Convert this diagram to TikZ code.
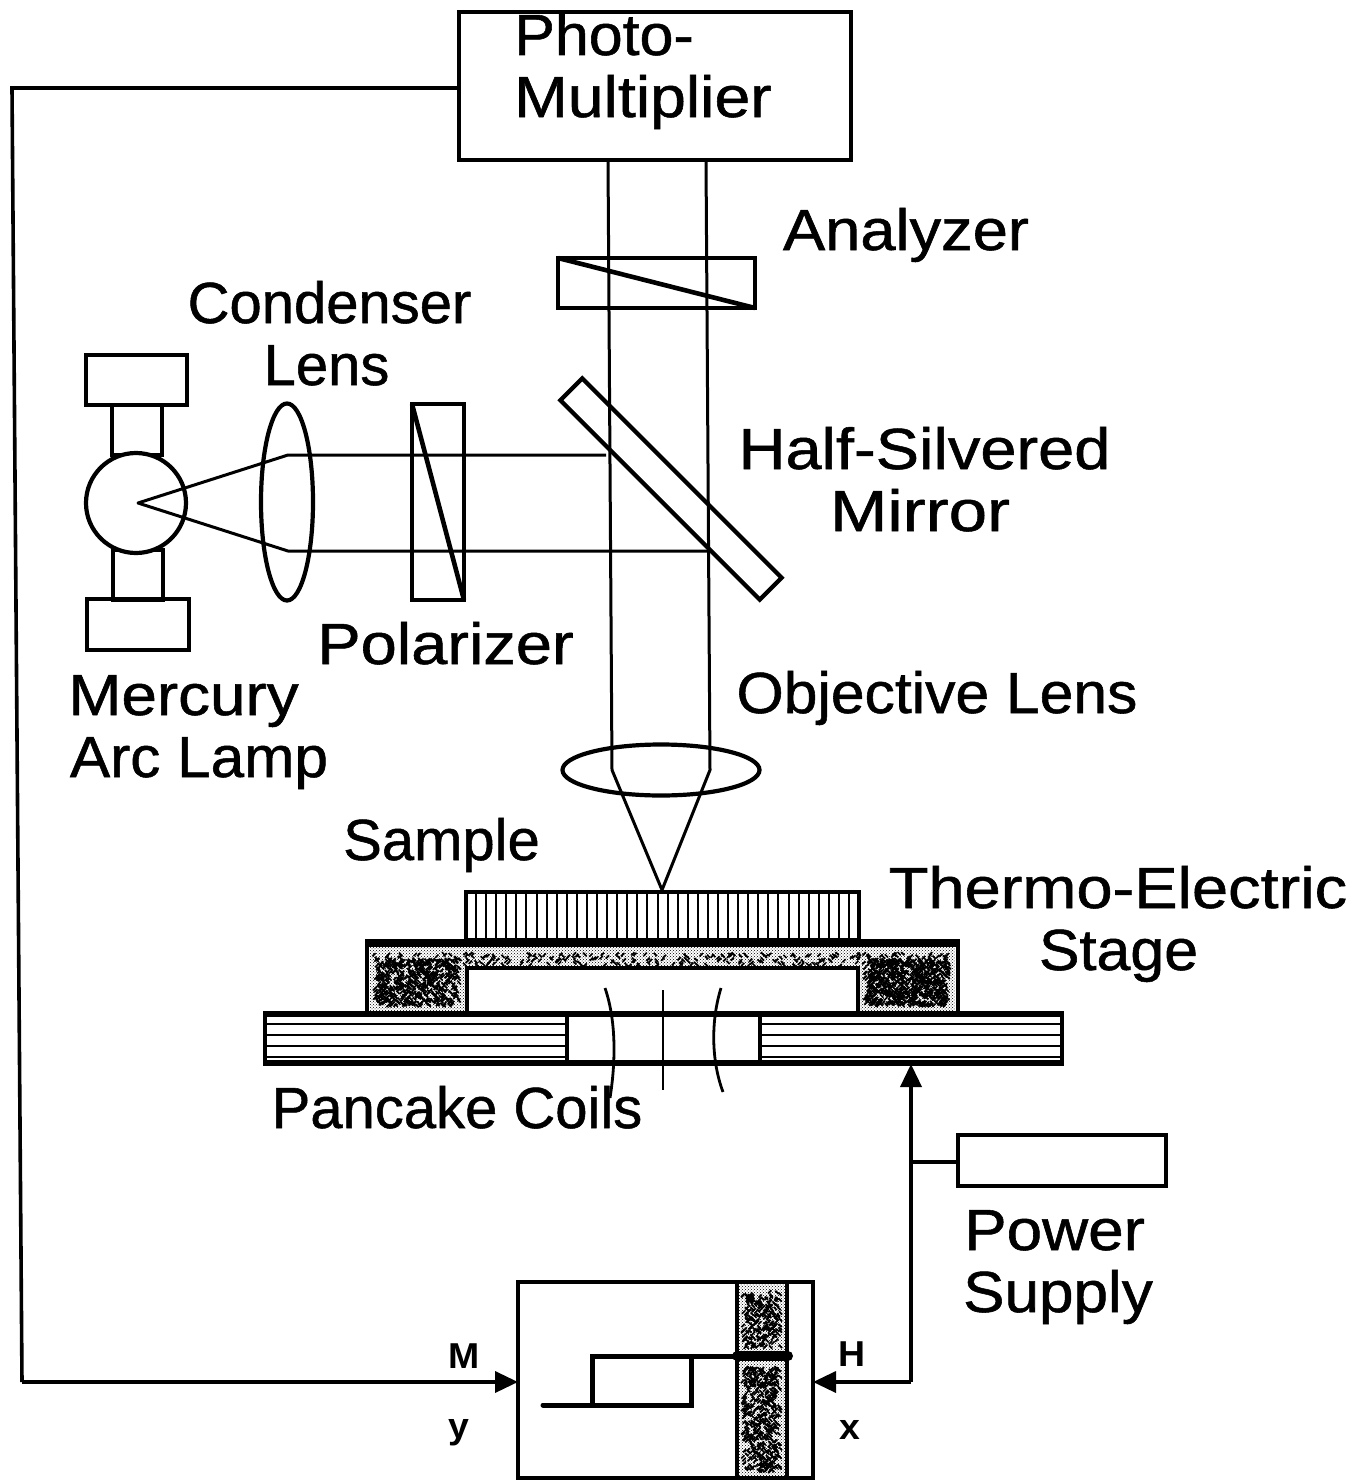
\documentclass[tikz,border=0pt]{standalone}
\usepackage{fontspec}
\usepackage{graphicx}
\setmainfont[FakeBold=0.9]{Liberation Sans}
\newfontfamily\smallfont[FakeStretch=1.04]{Liberation Sans Bold}
\usetikzlibrary{arrows.meta,patterns,shapes.geometric}
\tikzset{
  x=1pt,y=-1pt,
  line/.style={line width=3.6pt,line join=miter},
  wedge/.style={line width=4.6pt},
  thin beam/.style={line width=3pt,line join=round},
  box/.style={draw,line width=4.2pt,inner sep=0pt,outer sep=0pt,fill=none},
  lbl/.style={inner sep=0pt,font=\fontsize{58}{62}\selectfont,anchor=base},
  smalllbl/.style={inner sep=0pt,font=\fontsize{36}{38}\smallfont},
  tip/.style={-{Triangle[length=23pt,width=21pt]},line width=3.6pt},
  stip/.style={pattern=crosshatch dots,pattern color=black},
  speck/.style={line width=1.7pt,black},
}
\newcommand{\sx}[2]{\scalebox{#1}[1]{#2}}
% random dark strokes filling the box x0,y0,x1,y1, count
\newcommand{\noisefill}[5]{%
  \foreach \k in {1,...,#5} {
    \pgfmathsetmacro{\nx}{#1+rnd*(#3-#1)}
    \pgfmathsetmacro{\ny}{#2+rnd*(#4-#2)}
    \pgfmathsetmacro{\nd}{rnd>0.5?3.2:-3.2}
    \draw[speck] (\nx,\ny) -- ++(\nd,3.2);
  }%
}
\begin{document}
\begin{tikzpicture}
\pgfmathsetseed{4242}
\useasboundingbox (0,0) rectangle (1356,1480);
% beams first
\coordinate (bL) at (612,770);
\coordinate (bR) at (710,770);
\coordinate (focus) at (662,890);
\coordinate (src) at (138,503);
\coordinate (rU) at (288,455);
\coordinate (rD) at (288,551);
\coordinate (mU) at (606,455);
\coordinate (mD) at (708,551);
% Photomultiplier
\node[box,minimum width=392pt,minimum height=148pt,anchor=north west] (pm) at (459,12) {};
\coordinate (pmL) at (608,160);
\coordinate (pmR) at (706,160);
\draw[thin beam] (pmL) -- (bL) -- (focus) -- (bR) -- (pmR);
% Analyzer
\node[box,minimum width=197pt,minimum height=50pt,anchor=north west] (an) at (558,258) {};
\draw[wedge] (an.north west) -- (an.south east);
% Mirror
\node[box,minimum width=282pt,minimum height=31pt,rotate=-45] (mir) at (671,489) {};
% Lamp
\node[box,minimum width=101pt,minimum height=50pt,anchor=north west] (lt) at (86,355) {};
\node[box,minimum width=50pt,minimum height=50pt,anchor=north west] (nt) at (112,405) {};
\node[box,minimum width=50pt,minimum height=50pt,anchor=north west] (nb) at (113,550) {};
\node[box,minimum width=102pt,minimum height=51pt,anchor=north west] (lb) at (87,599) {};
\node[box,circle,minimum size=100pt,fill=white] (lamp) at (136,503) {};
% Rays
\draw[thin beam] (mU) -- (rU) -- (src) -- (rD) -- (mD);
% Lenses
\node[box,ellipse,minimum width=52pt,minimum height=197pt] (cl) at (287,502) {};
\node[box,ellipse,minimum width=197pt,minimum height=51pt] (ol) at (661,770) {};
% Polarizer
\node[box,minimum width=52pt,minimum height=196pt,anchor=north west] (po) at (412,404) {};
\draw[wedge] (po.north west) -- (po.south east);
% Sample
\node[box,minimum width=393pt,minimum height=48pt,anchor=north west] (sa) at (466,892) {};
\foreach \i in {1,...,38} \draw[line width=2pt] (466+\i*10.08,892) -- (466+\i*10.08,940);
% Stage
\fill[stip] (370,946) rectangle (955,1011);
\noisefill{372}{952}{950}{964}{300}
\noisefill{376}{958}{458}{1004}{620}
\noisefill{866}{958}{948}{1004}{820}
\node[box,minimum width=591pt,minimum height=72pt,anchor=north west] (st) at (367,941) {};
\draw[line width=6pt] (367,944) -- (958,944);
\node[box,fill=white,minimum width=391pt,minimum height=45pt,anchor=north west] (sti) at (467,968) {};
% Coils
\node[box,fill=white,minimum width=797pt,minimum height=51pt,anchor=north west] (co) at (265,1013) {};
\foreach \yy in {1024,1035,1046,1057} {
  \draw[line width=2.8pt] (265,\yy) -- (567,\yy);
  \draw[line width=2.8pt] (760,\yy) -- (1062,\yy);
}
\draw[line width=6pt] (265,1014) -- (1062,1014);
\draw[line width=6pt] (265,1063) -- (1062,1063);
\node[box,minimum width=193pt,minimum height=51pt,anchor=north west] (cc) at (567,1013) {};
\draw[line width=2.8pt] (605,988) .. controls (616,1020) and (616,1060) .. (610,1098);
\draw[line width=2.8pt] (663,990) -- (663,1090);
\draw[line width=2.8pt] (721,988) .. controls (711,1020) and (711,1060) .. (723,1092);
% Power supply
\node[box,minimum width=208pt,minimum height=51pt,anchor=north west] (ps) at (958,1135) {};
% Recorder
\fill[stip] (739,1284) rectangle (785,1476);
\noisefill{744}{1290}{779}{1346}{260}
\noisefill{744}{1366}{779}{1470}{500}
\node[box,minimum width=295pt,minimum height=196pt,anchor=north west] (rec) at (518,1282) {};
\draw[line width=4.6pt] (737,1282) -- (737,1478);
\draw[line width=4.6pt] (787,1282) -- (787,1478);
\draw[line width=5pt,line cap=round,line join=miter] (543,1405) -- (691,1405) -- (691,1356) -- (592,1356) -- (592,1405);
\draw[line width=5pt] (691,1356) -- (737,1356);
\draw[line width=10pt,line cap=round] (737,1356) -- (788,1356);
% Connectors
\coordinate (c1) at (12,88);
\coordinate (c2) at (22,1382);
\coordinate (cR) at (911,1382);
\coordinate (cJ) at (911,1162);
\coordinate (cT) at (911,1064);
\coordinate (pmW) at (459,88);
\coordinate (recW) at (518,1382);
\coordinate (recE) at (813,1382);
\coordinate (psW) at (958,1162);
\draw[line] (pmW) -- (c1) -- (c2);
\draw[tip] (c2) -- (recW);
\draw[tip] (cR) -- (recE);
\draw[tip] (cR) -- (cT);
\draw[line] (cJ) -- (psW);
% Labels (base anchored at measured baselines)
\node[lbl] (t1a) at (604,55) {\sx{1.05}{Photo-}};
\node[lbl] (t1b) at (643,117) {\sx{1.11}{Multiplier}};
\node[lbl] (t2) at (906,250) {\sx{1.09}{Analyzer}};
\node[lbl] (t3a) at (329.5,323) {Condenser};
\node[lbl] (t3b) at (326.5,385) {Lens};
\node[lbl] (t4a) at (924.5,469) {\sx{1.12}{Half-Silvered}};
\node[lbl] (t4b) at (920,531) {\sx{1.19}{Mirror}};
\node[lbl] (t5) at (445.5,664) {\sx{1.12}{Polarizer}};
\node[lbl] (t6) at (937,713) {\sx{1.045}{Objective Lens}};
\node[lbl] (t7a) at (183.5,715) {\sx{1.10}{Mercury}};
\node[lbl] (t7b) at (199,777) {\sx{1.04}{Arc Lamp}};
\node[lbl] (t8) at (441.5,860) {Sample};
\node[lbl] (t9a) at (1118,908) {\sx{1.12}{Thermo-Electric}};
\node[lbl] (t9b) at (1118.5,970) {\sx{1.05}{Stage}};
\node[lbl] (t10) at (457,1128) {Pancake Coils};
\node[lbl] (t11a) at (1054.5,1250) {\sx{1.10}{Power}};
\node[lbl] (t11b) at (1058,1312) {\sx{1.07}{Supply}};
\node[smalllbl] (m) at (464,1356) {M};
\node[smalllbl] (y) at (459,1433) {y};
\node[smalllbl] (h) at (852,1354) {H};
\node[smalllbl] (xx) at (850,1430) {x};
\end{tikzpicture}
\end{document}
